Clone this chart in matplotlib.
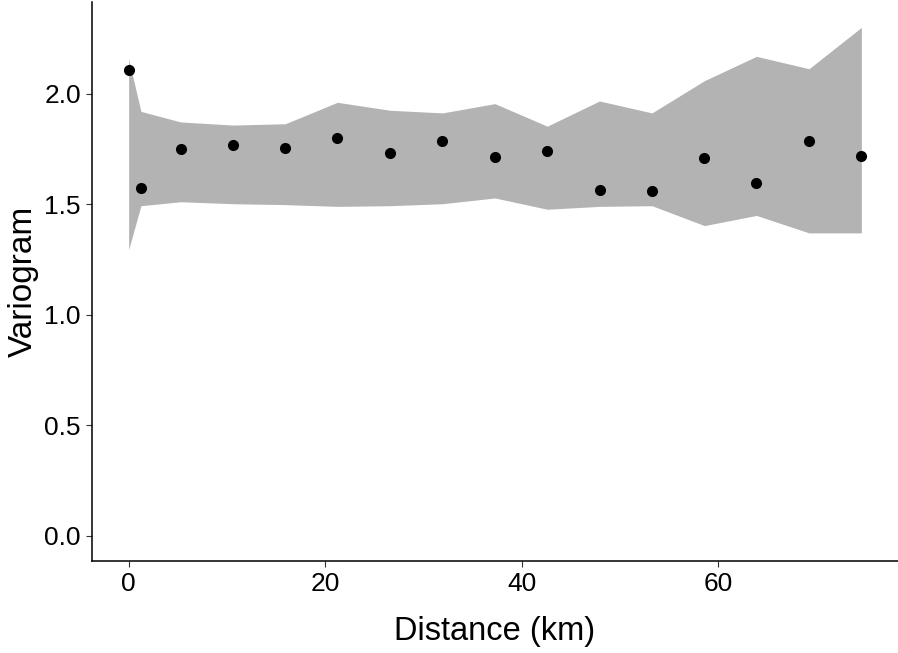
import matplotlib
matplotlib.use("Agg")
import matplotlib.pyplot as plt
import numpy as np

plt.rcParams['font.family'] = ['Liberation Sans', 'DejaVu Sans']

distance = [0.0, 1.25, 5.30, 10.63, 15.95, 21.25, 26.62, 31.95, 37.29, 42.62,
            47.94, 53.28, 58.62, 63.92, 69.27, 74.60]
variogram = [2.108, 1.575, 1.748, 1.769, 1.754, 1.801, 1.730, 1.787, 1.712, 1.741,
             1.566, 1.558, 1.707, 1.596, 1.784, 1.716]
upper = [2.158, 1.920, 1.872, 1.858, 1.864, 1.961, 1.925, 1.913, 1.955, 1.853,
         1.967, 1.913, 2.059, 2.169, 2.113, 2.300]
lower = [1.294, 1.493, 1.511, 1.502, 1.498, 1.490, 1.493, 1.502, 1.528, 1.477,
         1.490, 1.493, 1.403, 1.449, 1.370, 1.370]

xticks = [0, 20, 40, 60]
yticks = [0.0, 0.5, 1.0, 1.5, 2.0]

fig = plt.figure(figsize=(8.98, 6.53), dpi=100)
ax = fig.add_axes([92/898, (653-561)/653, (898-92)/898, (561-2)/653])

ax.fill_between(distance, lower, upper, color='#B3B3B3', linewidth=0)
ax.scatter(distance, variogram, s=64, color='black', zorder=3, linewidths=0)

xr = max(distance) - min(distance)
ax.set_xlim(min(distance) - 0.05 * xr, max(distance) + 0.05 * xr)
ymax = max(upper)
ax.set_ylim(-0.05 * ymax, ymax * 1.05)

ax.set_xticks(xticks)
ax.set_xticklabels([str(t) for t in xticks])
ax.set_yticks(yticks)
ax.set_yticklabels([f"{t:.1f}" for t in yticks])

for s in ['top', 'right']:
    ax.spines[s].set_visible(False)
for s in ['left', 'bottom']:
    ax.spines[s].set_linewidth(1.1)
    ax.spines[s].set_color('black')

ax.tick_params(axis='both', length=4, width=0.8, color='#333333',
               labelsize=19, labelcolor='black', pad=4)

ax.set_xlabel('Distance (km)', fontsize=23.5, labelpad=14)
ax.set_ylabel('Variogram', fontsize=24, labelpad=4)

fig.savefig('out.png', dpi=100)
